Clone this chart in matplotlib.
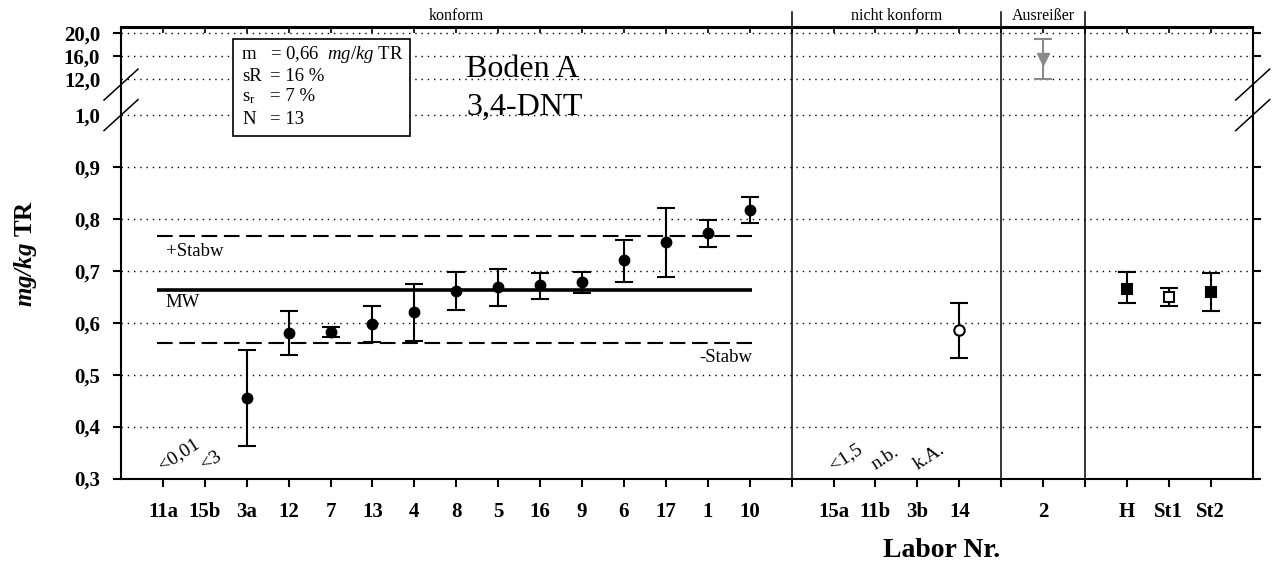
import numpy as np
import matplotlib
matplotlib.use("Agg")
import matplotlib.pyplot as plt
from matplotlib.patches import Rectangle

# ---------------- data ----------------
konform_labels = ['11a', '15b', '3a', '12', '7', '13', '4', '8', '5', '16', '9', '6', '17', '1', '10']
konform_values = [np.nan, np.nan, 0.456, 0.5805, 0.582, 0.598, 0.620, 0.662, 0.668, 0.672, 0.678, 0.7206, 0.756, 0.7726, 0.818]
konform_low = [np.nan, np.nan, 0.363, 0.537, 0.573, 0.563, 0.5645, 0.624, 0.632, 0.6466, 0.657, 0.679, 0.689, 0.745, 0.793]
konform_high = [np.nan, np.nan, 0.548, 0.623, 0.5915, 0.633, 0.6755, 0.698, 0.704, 0.696, 0.698, 0.760, 0.821, 0.798, 0.8426]

nk_labels = ['15a', '11b', '3b', '14']
nk_values = [np.nan, np.nan, np.nan, 0.586]
nk_low = [np.nan, np.nan, np.nan, 0.533]
nk_high = [np.nan, np.nan, np.nan, 0.638]

out_labels = ['2']
out_values = [15.5]
out_low = [12.05]
out_high = [18.96]

ref_labels = ['H', 'St1', 'St2']
ref_values = [0.665, 0.6505, 0.659]
ref_low = [0.639, 0.633, 0.623]
ref_high = [0.698, 0.667, 0.695]

below_notes = {'11a': '<0,01', '15b': '<3', '15a': '<1,5', '11b': 'n.b.', '3b': 'k.A.'}

MW = 0.664
STABW = 0.1025

ytick_values = [0.3, 0.4, 0.5, 0.6, 0.7, 0.8, 0.9, 1.0, 12.0, 16.0, 20.0]
ytick_labels = ['0,3', '0,4', '0,5', '0,6', '0,7', '0,8', '0,9', '1,0', '12,0', '16,0', '20,0']

info_keys = ['m', 'sR', r's$_\mathregular{r}$', 'N']
info_vals = [r'= 0,66  $\mathit{mg/kg}$ TR', '= 16 %', '= 7 %', '= 13']

# ---------------- style ----------------
plt.rcParams['font.family'] = 'Liberation Serif'
plt.rcParams['mathtext.fontset'] = 'custom'
plt.rcParams['mathtext.rm'] = 'Liberation Serif'
plt.rcParams['mathtext.it'] = 'Liberation Serif:italic'
plt.rcParams['mathtext.bf'] = 'Liberation Serif:bold'
plt.rcParams['mathtext.bfit'] = 'Liberation Serif:bold:italic'

# broken y axis mapping
GAP = 36.0 / 518.6
UP = 5.75 / 518.6
YBOT, YTOP = 0.3, 20.96


def fwd(y):
    y = np.asarray(y, dtype=float)
    return np.where(y <= 1.0, y,
                    np.where(y < 12.0, 1.0 + (y - 1.0) / 11.0 * GAP,
                             1.0 + GAP + (y - 12.0) * UP))


def inv(z):
    z = np.asarray(z, dtype=float)
    return np.where(z <= 1.0, z,
                    np.where(z < 1.0 + GAP, 1.0 + (z - 1.0) / GAP * 11.0,
                             12.0 + (z - 1.0 - GAP) / UP))


W, H = 1274, 563
fig = plt.figure(figsize=(W / 100, H / 100), dpi=100)
ax_l, ax_r, ax_t, ax_b = 121, 1252.7, 27.5, 478.5
ax = fig.add_axes([ax_l / W, 1 - ax_b / H, (ax_r - ax_l) / W, (ax_b - ax_t) / H])
AXW, AXH = ax_r - ax_l, ax_b - ax_t

ax.set_yscale('function', functions=(fwd, inv))
ax.set_ylim(YBOT, YTOP)

# groups and positions
groups = [
    ('konform', konform_labels, konform_values, konform_low, konform_high),
    ('nicht konform', nk_labels, nk_values, nk_low, nk_high),
    ('Ausreißer', out_labels, out_values, out_low, out_high),
    (None, ref_labels, ref_values, ref_low, ref_high),
]
pos = 1
group_pos = []
separators = []
for gi, g in enumerate(groups):
    p = np.arange(pos, pos + len(g[1]))
    group_pos.append(p)
    pos += len(g[1]) + 1
    if gi < len(groups) - 1:
        separators.append(pos - 1)
XMAX = pos - 1
ax.set_xlim(0, XMAX)

err_kw = dict(ecolor='black', elinewidth=1.5, capsize=6.5, capthick=1.5, linestyle='none', zorder=6)

# konform
p = group_pos[0]
v = np.array(konform_values); lo = np.array(konform_low); hi = np.array(konform_high)
m = np.isfinite(v)
ax.errorbar(p[m], v[m], yerr=[v[m] - lo[m], hi[m] - v[m]], marker='o', ms=7.5,
            mfc='black', mec='black', **err_kw)
# nicht konform
p = group_pos[1]
v = np.array(nk_values); lo = np.array(nk_low); hi = np.array(nk_high)
m = np.isfinite(v)
ax.errorbar(p[m], v[m], yerr=[v[m] - lo[m], hi[m] - v[m]], marker='o', ms=7.5,
            mfc='white', mec='black', mew=1.5, **err_kw)
# Ausreisser
p = group_pos[2]
v = np.array(out_values); lo = np.array(out_low); hi = np.array(out_high)
gkw = dict(err_kw); gkw['ecolor'] = '#8a8a8a'
ax.errorbar(p, v, yerr=[v - lo, hi - v], marker='v', ms=9, mfc='#8a8a8a', mec='#8a8a8a', **gkw)
# reference
p = group_pos[3]
v = np.array(ref_values); lo = np.array(ref_low); hi = np.array(ref_high)
ref_faces = ['black', 'white', 'black']
for i in range(len(v)):
    ax.errorbar([p[i]], [v[i]], yerr=[[v[i] - lo[i]], [hi[i] - v[i]]], marker='s', ms=7,
                mfc=ref_faces[i], mec='black', mew=1.5, **err_kw)

# MW / Stabw lines
kp = group_pos[0]
x0, x1 = kp[0] - 0.15, kp[-1] + 0.05
ax.hlines(MW, x0, x1, colors='black', lw=2.6, zorder=4)
ax.hlines([MW + STABW, MW - STABW], x0, x1, colors='black', lw=1.5,
          linestyles=[(0, (7.5, 3.2))], zorder=4)
ax.text(x0 + 0.22, MW - 0.009, 'MW', ha='left', va='top', fontsize=13.5)
ax.text(x0 + 0.22, MW + STABW - 0.012, '+Stabw', ha='left', va='top', fontsize=13.5)
ax.text(x1, MW - STABW - 0.013, '-Stabw', ha='right', va='top', fontsize=13.5)

# notes below
for gi, g in enumerate(groups):
    for lab, xp in zip(g[1], group_pos[gi]):
        if lab in below_notes:
            ax.text(xp, 0.316, below_notes[lab], rotation=33, rotation_mode='anchor',
                    ha='left', va='baseline', fontsize=14)

# separators and headers
xt = ax.get_xaxis_transform()
bounds = [0] + separators + [XMAX]
for s in separators:
    ax.plot([s, s], [0, 1 + 15.5 / AXH], transform=xt, color='black', lw=1.1,
            clip_on=False, zorder=7)
for gi, g in enumerate(groups):
    if g[0]:
        ax.text((bounds[gi] + bounds[gi + 1]) / 2, 1 + 7 / AXH, g[0], transform=xt,
                ha='center', va='baseline', fontsize=11.5)

# ticks
all_pos = np.arange(1, XMAX)
labels_by_pos = {}
for gi, g in enumerate(groups):
    for lab, xp in zip(g[1], group_pos[gi]):
        labels_by_pos[int(xp)] = lab
ax.set_xticks(all_pos, [labels_by_pos.get(int(x), '') for x in all_pos])
ax.tick_params(axis='x', direction='out', length=6, width=1.5, pad=11, labelsize=15)
for t in ax.get_xticklabels():
    t.set_fontweight('bold')
sec = ax.secondary_xaxis('top')
sec.set_xticks(all_pos, [''] * len(all_pos))
sec.tick_params(direction='in', length=4.5, width=1.2)
sec.spines['top'].set_linewidth(1.5)

ax.set_yticks(ytick_values, ytick_labels)
ax.yaxis.set_minor_locator(matplotlib.ticker.NullLocator())
ax.tick_params(axis='y', direction='out', length=6, width=1.5, pad=9, labelsize=15,
               right=True)
for t in ax.get_yticklabels():
    t.set_fontweight('bold')
for val, tk in zip(ytick_values, ax.yaxis.get_major_ticks()):
    if val in (1.0, 12.0):
        tk.tick1line.set_visible(False)
        tk.tick2line.set_visible(False)

ax.yaxis.grid(True, linestyle=(0, (1, 3.5)), lw=1.0, color='black')
ax.xaxis.grid(False)
ax.set_axisbelow(True)
for sp in ax.spines.values():
    sp.set_linewidth(1.5)

# break marks
def frac(val):
    return float((fwd(val) - fwd(YBOT)) / (fwd(YTOP) - fwd(YBOT)))

c2 = frac(1.0)
c1 = c2 + 30.5 / AXH
dx = 17 / AXW
dy = 15.5 / AXH
for c in (c1, c2):
    for xa in (0.0, 1.0):
        ax.plot([xa - dx, xa + dx], [c - dy, c + dy], transform=ax.transAxes,
                color='black', lw=1.1, clip_on=False, zorder=8)

# axis labels
ax.set_ylabel(r'$\mathbfit{mg/kg}$ TR', fontsize=18, fontweight='bold')
ax.yaxis.set_label_coords((39 - ax_l) / AXW, 0.5)
ax.set_xlabel('Labor Nr.', fontsize=20, fontweight='bold')
ax.xaxis.set_label_coords((942 - ax_l) / AXW, (ax_b - 557) / AXH)
ax.xaxis.label.set_verticalalignment('baseline')

# title-like texts
ax.text((466 - ax_l) / AXW, (ax_b - 77) / AXH, 'Boden A', transform=ax.transAxes,
        ha='left', va='baseline', fontsize=23)
ax.text((466 - ax_l) / AXW, (ax_b - 115) / AXH, '3,4-DNT', transform=ax.transAxes,
        ha='left', va='baseline', fontsize=23)

# info box
ax.add_patch(Rectangle(((233 - ax_l) / AXW, (ax_b - 136) / AXH), 177 / AXW, 97 / AXH,
                       transform=ax.transAxes, facecolor='white', edgecolor='black',
                       lw=1.2, zorder=9))
baselines = [59.3, 81, 101, 124]
for k, val, b in zip(info_keys, info_vals, baselines):
    ax.text((242 - ax_l) / AXW, (ax_b - b) / AXH, k, transform=ax.transAxes,
            ha='left', va='baseline', fontsize=13.5, zorder=10)
    ax.text((270 - ax_l) / AXW, (ax_b - b) / AXH, val, transform=ax.transAxes,
            ha='left', va='baseline', fontsize=13.5, zorder=10)

fig.savefig('out.png', dpi=100)
